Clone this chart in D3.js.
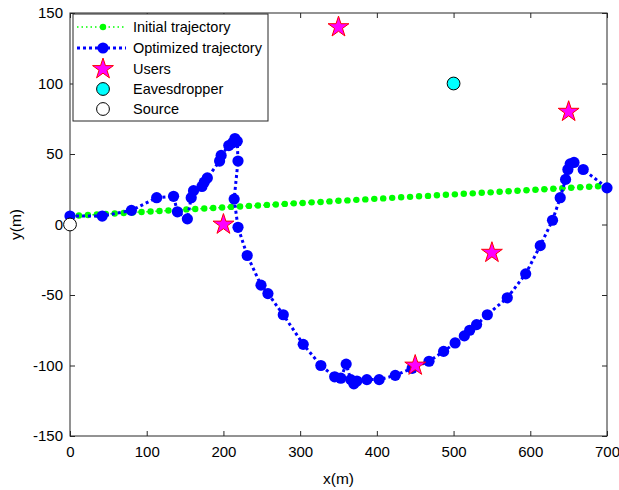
<!DOCTYPE html>
<html><head><meta charset="utf-8">
<script src="https://cdn.jsdelivr.net/npm/d3@7/dist/d3.min.js"></script>
<style>
html,body{margin:0;padding:0;background:#fff;}
svg{display:block;font-family:"Liberation Sans",Arial,sans-serif;}
</style></head>
<body>
<svg id="chart" width="619" height="490"></svg>
<script>
// ---- data ----
const xTicks = [0,100,200,300,400,500,600,700];
const yTicks = [-150,-100,-50,0,50,100,150];

const initialX = [0,11.7,23.3,35.0,46.7,58.3,70.0,81.7,93.3,105.0,116.7,128.3,140.0,151.7,163.3,175.0,186.7,198.3,210.0,221.7,233.3,245.0,256.7,268.3,280.0,291.7,303.3,315.0,326.7,338.3,350.0,361.7,373.3,385.0,396.7,408.3,420.0,431.7,443.3,455.0,466.7,478.3,490.0,501.7,513.3,525.0,536.7,548.3,560.0,571.7,583.3,595.0,606.7,618.3,630.0,641.7,653.3,665.0,676.7,688.3,700.0];
const initialY = [6.0,6.4,6.7,7.1,7.4,7.8,8.2,8.5,8.9,9.2,9.6,9.9,10.3,10.7,11.0,11.4,11.7,12.1,12.5,12.8,13.2,13.5,13.9,14.2,14.6,15.0,15.3,15.7,16.0,16.4,16.8,17.1,17.5,17.8,18.2,18.5,18.9,19.3,19.6,20.0,20.3,20.7,21.1,21.4,21.8,22.1,22.5,22.8,23.2,23.6,23.9,24.3,24.6,25.0,25.4,25.7,26.1,26.4,26.8,27.1,27.5];

const optX = [0,42,80,113,135,140,153,158,161,172,175,179,195,197,207,212,215,218,219,214,219,231,249,258,278,304,327,345,353,360,366,370,374,387,403,424,446,468,487,502,514,521,530,544,570,594,613,629,639,646,649,652,657,669,700];
const optY = [6,6,10,19,20,9,4,19,24,27,30,33,45,49,56,58,61,59,45,18,-2,-22,-43,-49,-64,-85,-100,-108,-109,-99,-110,-113,-111,-110,-110,-107,-102,-97,-90,-84,-79,-75,-71,-64,-52,-35,-15,3,19,32,39,43,44,39,26];

const usersX = [350,650,200,550,450];
const usersY = [140,80,0,-20,-100];
const eavesX = [500], eavesY = [100];
const sourceX = [0], sourceY = [0];

const legendLabels = ["Initial trajectory","Optimized trajectory","Users","Eavesdropper","Source"];

// ---- layout ----
const mL = 70, mR = 607, mT = 13, mB = 436;
const svg = d3.select("#chart");
const x = d3.scaleLinear().domain([0,700]).range([mL,mR]);
const y = d3.scaleLinear().domain([-150,150]).range([mB,mT]);
const axisColor = "#262626";
const fmt = d => String(d);

svg.append("rect").attr("x",mL).attr("y",mT).attr("width",mR-mL).attr("height",mB-mT)
  .attr("fill","#fff").attr("stroke",axisColor).attr("stroke-width",1);

function styleAxis(g, showText){
  g.select(".domain").remove();
  g.selectAll(".tick line").attr("stroke",axisColor);
  g.selectAll(".tick text").attr("fill","#000").style("font-size","15px")
    .style("font-family","'Liberation Sans',Arial,sans-serif");
  if(!showText) g.selectAll(".tick text").remove();
}
svg.append("g").attr("transform",`translate(0,${mB})`)
  .call(d3.axisBottom(x).tickValues(xTicks).tickSize(-5).tickPadding(10).tickFormat(fmt))
  .call(g=>styleAxis(g,true));
svg.append("g").attr("transform",`translate(0,${mT})`)
  .call(d3.axisTop(x).tickValues(xTicks).tickSize(-5))
  .call(g=>styleAxis(g,false));
svg.append("g").attr("transform",`translate(${mL},0)`)
  .call(d3.axisLeft(y).tickValues(yTicks).tickSize(-5).tickPadding(7).tickFormat(fmt))
  .call(g=>styleAxis(g,true));
svg.append("g").attr("transform",`translate(${mR},0)`)
  .call(d3.axisRight(y).tickValues(yTicks).tickSize(-5))
  .call(g=>styleAxis(g,false));

svg.append("text").attr("x",(mL+mR)/2).attr("y",484).attr("text-anchor","middle")
  .style("font-size","15.5px").text("x(m)");
svg.append("text").attr("transform",`translate(21,${(mT+mB)/2}) rotate(-90)`)
  .attr("text-anchor","middle").style("font-size","15.5px").text("y(m)");

// ---- series ----
const initPts = initialX.map((v,i)=>[v,initialY[i]]);
const optPts = optX.map((v,i)=>[v,optY[i]]);
const line = d3.line().x(d=>x(d[0])).y(d=>y(d[1]));

svg.append("path").datum(initPts).attr("d",line).attr("fill","none")
  .attr("stroke","#00ff00").attr("stroke-width",1.5).attr("stroke-dasharray","1.5,3");
svg.append("g").selectAll("circle").data(initPts).join("circle")
  .attr("cx",d=>x(d[0])).attr("cy",d=>y(d[1])).attr("r",3.2).attr("fill","#00ff00");

svg.append("path").datum(optPts).attr("d",line).attr("fill","none")
  .attr("stroke","#0000ff").attr("stroke-width",3).attr("stroke-dasharray","3,3");
svg.append("g").selectAll("circle").data(optPts).join("circle")
  .attr("cx",d=>x(d[0])).attr("cy",d=>y(d[1])).attr("r",5.6).attr("fill","#0000ff");

const star = d3.symbol().type(d3.symbolStar).size(135);
svg.append("g").selectAll("path").data(usersX.map((v,i)=>[v,usersY[i]])).join("path")
  .attr("d",star).attr("transform",d=>`translate(${x(d[0])},${y(d[1])})`)
  .attr("fill","#ff00ff").attr("stroke","#ff0000").attr("stroke-width",1);

svg.append("g").selectAll("circle").data(eavesX.map((v,i)=>[v,eavesY[i]])).join("circle")
  .attr("cx",d=>x(d[0])).attr("cy",d=>y(d[1])).attr("r",6.4)
  .attr("fill","#00ffff").attr("stroke","#000").attr("stroke-width",1);
svg.append("g").selectAll("circle").data(sourceX.map((v,i)=>[v,sourceY[i]])).join("circle")
  .attr("cx",d=>x(d[0])).attr("cy",d=>y(d[1])).attr("r",6.4)
  .attr("fill","#fff").attr("stroke","#000").attr("stroke-width",1);

// ---- legend ----
const lg = svg.append("g");
lg.append("rect").attr("x",73).attr("y",14).attr("width",195).attr("height",107)
  .attr("fill","#fff").attr("stroke",axisColor).attr("stroke-width",1);
const rowY = [27,48,69,89,109];
const lx0 = 77, lx1 = 126, lmx = 103, ltx = 133;
lg.append("line").attr("x1",lx0).attr("x2",lx1).attr("y1",rowY[0]).attr("y2",rowY[0])
  .attr("stroke","#00ff00").attr("stroke-width",1.5).attr("stroke-dasharray","1.5,3");
lg.append("circle").attr("cx",lmx).attr("cy",rowY[0]).attr("r",3.2).attr("fill","#00ff00");
lg.append("line").attr("x1",lx0).attr("x2",lx1).attr("y1",rowY[1]).attr("y2",rowY[1])
  .attr("stroke","#0000ff").attr("stroke-width",3).attr("stroke-dasharray","3,3");
lg.append("circle").attr("cx",lmx).attr("cy",rowY[1]).attr("r",5.6).attr("fill","#0000ff");
lg.append("path").attr("d",star).attr("transform",`translate(${lmx},${rowY[2]})`)
  .attr("fill","#ff00ff").attr("stroke","#ff0000").attr("stroke-width",1);
lg.append("circle").attr("cx",lmx).attr("cy",rowY[3]).attr("r",6.4)
  .attr("fill","#00ffff").attr("stroke","#000");
lg.append("circle").attr("cx",lmx).attr("cy",rowY[4]).attr("r",6.4)
  .attr("fill","#fff").attr("stroke","#000");
lg.selectAll("text.lab").data(legendLabels).join("text").attr("class","lab")
  .attr("x",ltx).attr("y",(d,i)=>rowY[i]).attr("dy","0.36em")
  .style("font-size","14.5px").text(d=>d);
</script>
</body></html>
